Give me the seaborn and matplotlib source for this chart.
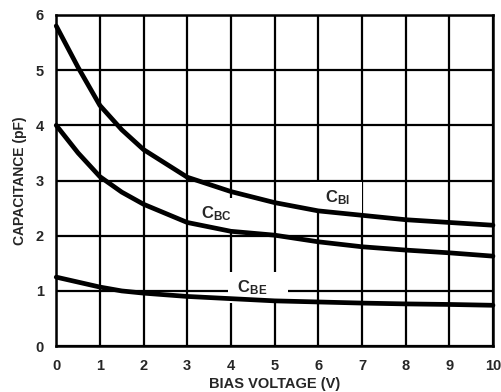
import pandas as pd
import seaborn as sns
import matplotlib.pyplot as plt

# values
bias_v = [0, 0.5, 1, 1.5, 2, 3, 4, 5, 6, 7, 8, 9, 10]
c_bi = [5.8, 5.05, 4.36, 3.92, 3.56, 3.06, 2.8, 2.6, 2.45, 2.37, 2.29, 2.24, 2.19]
c_bc = [4.0, 3.5, 3.07, 2.79, 2.57, 2.24, 2.08, 2.01, 1.89, 1.8, 1.74, 1.69, 1.63]
c_be = [1.25, 1.16, 1.07, 1.0, 0.96, 0.9, 0.86, 0.82, 0.8, 0.78, 0.765, 0.755, 0.74]
x_ticks = list(range(0, 11))
y_ticks = list(range(0, 7))

sns.set_theme(style='white')
plt.rcParams['font.family'] = ['Liberation Sans', 'DejaVu Sans']
plt.rcParams['mathtext.default'] = 'regular'

df = pd.concat([
    pd.DataFrame({'v': bias_v, 'c': c_bi, 'curve': 'CBI'}),
    pd.DataFrame({'v': bias_v, 'c': c_bc, 'curve': 'CBC'}),
    pd.DataFrame({'v': bias_v, 'c': c_be, 'curve': 'CBE'}),
])

fig = plt.figure(figsize=(5.02, 3.92), dpi=100)
ax = fig.add_axes([0.112, 0.117, 0.870, 0.845])

sns.lineplot(data=df, x='v', y='c', hue='curve', palette=['black'] * 3,
             linewidth=3.4, legend=False, ax=ax, zorder=3, clip_on=False)

ax.set_xlim(0, 10)
ax.set_ylim(0, 6)
ax.set_xticks(x_ticks)
ax.set_yticks(y_ticks)
ax.grid(True, color='black', linewidth=1.6)
ax.set_axisbelow(True)
for s in ax.spines.values():
    s.set_color('black')
    s.set_linewidth(1.8)
ax.tick_params(length=0, labelsize=10.5, pad=9)
for lab in ax.get_xticklabels() + ax.get_yticklabels():
    lab.set_fontweight('bold')

ax.set_xlabel('BIAS VOLTAGE (V)', fontsize=10.5, fontweight='bold', labelpad=3)
ax.set_ylabel('CAPACITANCE (pF)', fontsize=10, fontweight='bold', labelpad=6)

# white boxes behind the curve names blank out the grid, as on the datasheet
box = dict(facecolor='white', edgecolor='none', boxstyle='square,pad=0.35')
kw = dict(fontsize=12, fontweight='bold', ha='center', va='center', bbox=box, zorder=2)
ax.text(6.4, 2.69, r'  $C_{BI}$  ', **kw)
ax.text(3.72, 2.4, r'$C_{BC}$  ', **kw)
ax.text(4.62, 1.06, r' $C_{BE}$    ', **kw)

fig.savefig('out.png', dpi=100)
